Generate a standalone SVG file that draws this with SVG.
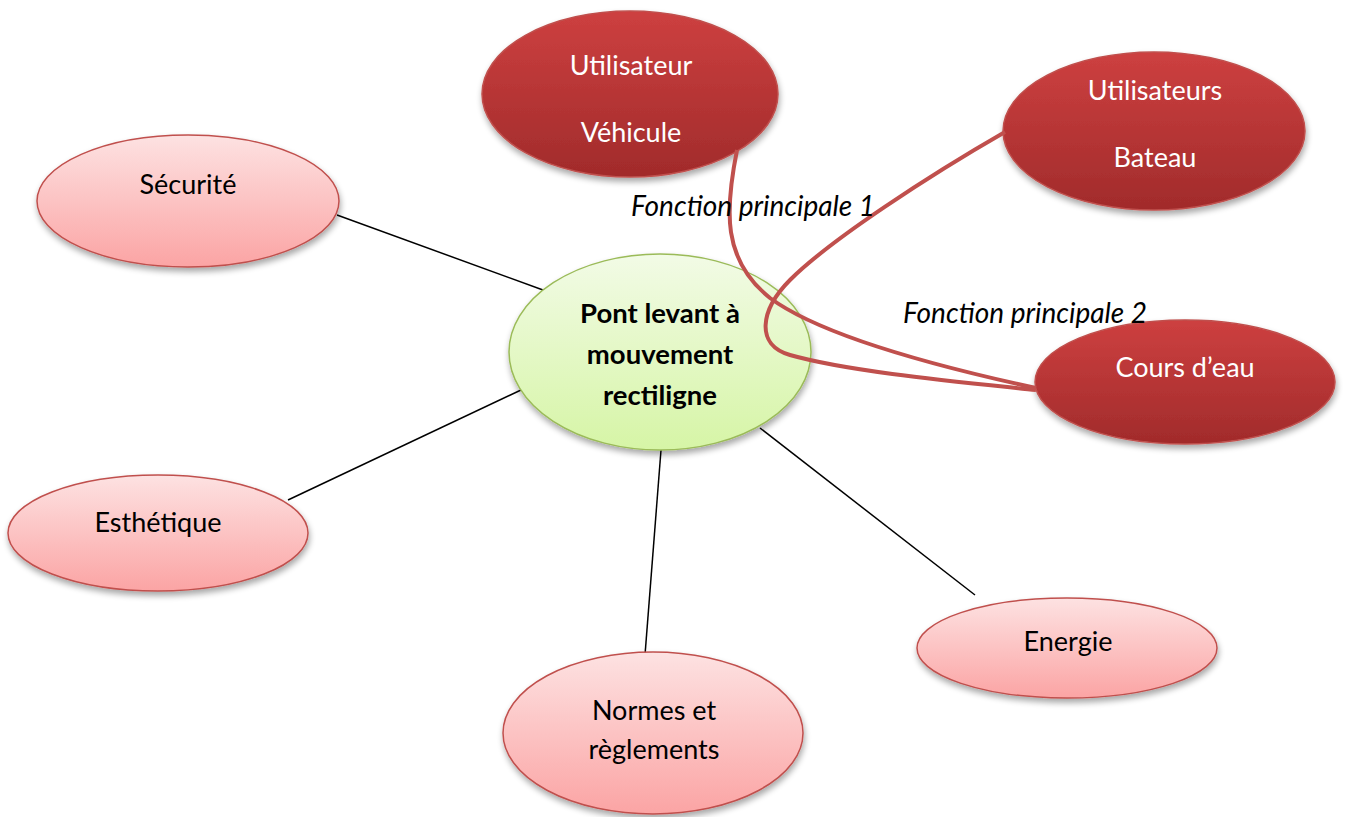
<svg xmlns="http://www.w3.org/2000/svg" width="1346" height="817" viewBox="0 0 1346 817">
<defs>
<linearGradient id="gPink" x1="0" y1="0" x2="0" y2="1"><stop offset="0" stop-color="#fde2e2"/><stop offset="1" stop-color="#fba4a4"/></linearGradient>
<linearGradient id="gRed" x1="0" y1="0" x2="0" y2="1"><stop offset="0" stop-color="#cd4040"/><stop offset="1" stop-color="#a12b2b"/></linearGradient>
<linearGradient id="gGreen" x1="0" y1="0" x2="0" y2="1"><stop offset="0" stop-color="#f2fbe6"/><stop offset="1" stop-color="#d6f5a6"/></linearGradient>
<filter id="sh" x="-10%" y="-10%" width="125%" height="130%"><feGaussianBlur in="SourceAlpha" stdDeviation="3"/><feOffset dx="1" dy="4" result="b"/><feComponentTransfer><feFuncA type="linear" slope="0.35"/></feComponentTransfer><feMerge><feMergeNode/><feMergeNode in="SourceGraphic"/></feMerge></filter>
</defs>
<style>
.pink{fill:url(#gPink);stroke:#c0504d;stroke-width:1.5;filter:url(#sh)}
.red{fill:url(#gRed);stroke:#c0504d;stroke-width:1.5;filter:url(#sh)}
.green{fill:url(#gGreen);stroke:#9bbb59;stroke-width:1.5;filter:url(#sh)}
text{font-family:Lato,"Liberation Sans",sans-serif;font-size:27px;text-anchor:middle}
.w{fill:#ffffff}
.b{fill:#000000}
.bold{font-weight:bold;font-size:27.5px}
.it{font-style:italic;text-anchor:start;font-size:28px}
.ln{stroke:#000;stroke-width:1.5;fill:none}
.rc{stroke:#c0504d;stroke-width:4;fill:none}
</style>
<rect width="1346" height="817" fill="#ffffff"/>
<g id="connectors">
<line class="ln" x1="337" y1="215" x2="543" y2="290"/>
<line class="ln" x1="288" y1="500" x2="521" y2="390"/>
<line class="ln" x1="645" y1="655" x2="661" y2="450"/>
<line class="ln" x1="760" y1="428" x2="975" y2="595"/>
</g>
<g id="node-securite"><ellipse class="pink" cx="188" cy="201" rx="151" ry="66"/><text class="b" x="188" y="194">Sécurité</text></g>
<g id="node-esthetique"><ellipse class="pink" cx="158" cy="533" rx="150" ry="58"/><text class="b" x="158" y="532">Esthétique</text></g>
<g id="node-normes"><ellipse class="pink" cx="653" cy="733" rx="150" ry="81"/><text class="b" x="654" y="720">Normes et</text><text class="b" x="654" y="759">règlements</text></g>
<g id="node-energie"><ellipse class="pink" cx="1067" cy="648" rx="150" ry="50"/><text class="b" x="1068" y="651">Energie</text></g>
<g id="node-pont"><ellipse class="green" cx="660" cy="352" rx="151" ry="98"/><text class="b bold" x="660" y="323">Pont levant à</text><text class="b bold" x="660" y="364">mouvement</text><text class="b bold" x="660" y="405">rectiligne</text></g>
<g id="node-vehicule"><ellipse class="red" cx="630" cy="94" rx="148" ry="83"/><text class="w" x="631" y="75">Utilisateur</text><text class="w" x="631" y="142">Véhicule</text></g>
<g id="node-bateau"><ellipse class="red" cx="1154" cy="131" rx="151" ry="79"/><text class="w" x="1155" y="100">Utilisateurs</text><text class="w" x="1155" y="167">Bateau</text></g>
<g id="node-cours"><ellipse class="red" cx="1185" cy="382" rx="150" ry="62"/><text class="w" x="1185" y="377">Cours d’eau</text></g>
<g id="red-connectors">
<path class="rc" d="M737,150 C725,210 722,260 770,298 C820,335 930,365 1036,388"/>
<path class="rc" d="M1005,132 C930,175 830,240 790,280 C760,310 755,345 790,355 C850,372 960,382 1036,390"/>
</g>
<g id="labels">
<text class="b it" x="631" y="216">Fonction principale 1</text>
<text class="b it" x="903" y="323">Fonction principale 2</text>
</g>
</svg>
